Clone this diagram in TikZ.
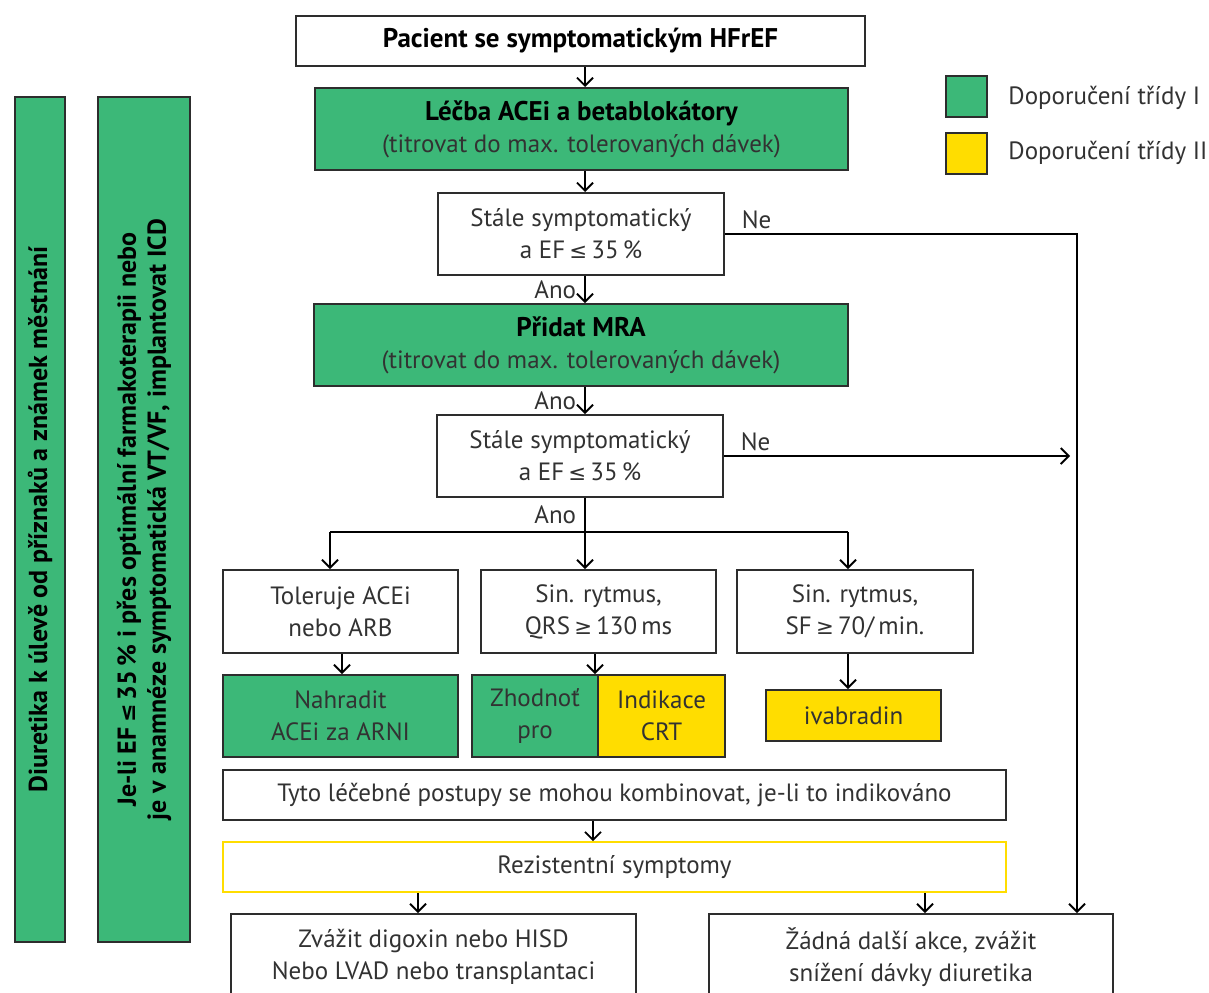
\documentclass[tikz,border=0pt]{standalone}
\usepackage{fontspec}
\setmainfont{PT Sans}
\newfontfamily\znaky{DejaVu Sans}
\usetikzlibrary{arrows.meta}

\definecolor{tridaI}{RGB}{60,184,120}
\definecolor{tridaII}{RGB}{255,221,0}
\definecolor{ramecek}{RGB}{45,45,45}
\definecolor{pismo}{RGB}{50,50,50}

\newcommand{\mensi}{{\znaky\scalebox{0.85}{≤}}}
\newcommand{\vetsi}{{\znaky\scalebox{0.85}{≥}}}

\begin{document}
\begin{tikzpicture}[x=0.5pt, y=-0.5pt,
	every node/.style={font=\fontsize{12.5}{16}\selectfont, text=pismo, align=center, inner sep=2pt},
	box/.style={draw=ramecek, line width=1pt, fill=white},
	zelena/.style={box, fill=tridaI},
	zluta/.style={box, fill=tridaII},
	tucne/.style={font=\fontsize{13.5}{16}\selectfont\bfseries, text=black},
	svisle/.style={font=\fontsize{13}{15}\selectfont\bfseries, text=black, rotate=90},
	sipka/.style={-{Straight Barb[length=4pt,width=8pt]}, line width=0.9pt},
	cara/.style={line width=0.9pt}]
	\clip (0,0) rectangle (1209,992);
	% Main column
	\node[box, tucne, minimum width=284.5pt, minimum height=25pt] (pacient) at (580.5,41) {Pacient se symptomatickým HFrEF};
	\node[zelena, minimum width=266.5pt, minimum height=41pt] (lecba) at (581.5,129) {{\fontsize{13.5}{16}\selectfont\bfseries\color{black}Léčba ACEi a betablokátory}\\(titrovat do max. tolerovaných dávek)};
	\node[box, minimum width=143pt, minimum height=41pt] (dotaz1) at (581,234) {Stále symptomatický\\a EF\,\mensi\,35\,\%};
	\node[zelena, minimum width=267pt, minimum height=41pt] (mra) at (581,345) {{\fontsize{13.5}{16}\selectfont\bfseries\color{black}Přidat MRA}\\(titrovat do max. tolerovaných dávek)};
	\node[box, minimum width=143pt, minimum height=41pt] (dotaz2) at (580,456) {Stále symptomatický\\a EF\,\mensi\,35\,\%};
	% Three branches
	\node[box, minimum width=117.5pt, minimum height=41.5pt] (tol) at (340.5,611.5) {Toleruje ACEi\\nebo ARB};
	\node[box, minimum width=117.5pt, minimum height=41.5pt] (qrs) at (598.5,611.5) {Sin. rytmus,\\QRS\,\vetsi\,130\,ms};
	\node[box, minimum width=118pt, minimum height=41.5pt] (sf) at (855,611.5) {Sin. rytmus,\\SF\,\vetsi\,70/\,min.};
	\node[zelena, minimum width=117.5pt, minimum height=41pt] (arni) at (340.5,716) {Nahradit\\ACEi za ARNI};
	\node[zelena, minimum width=63pt, minimum height=41pt] (zhod) at (535,716) {Zhodnoť\\pro};
	\node[zluta, minimum width=63.5pt, minimum height=41pt] (crt) at (661.5,716) {Indikace\\CRT};
	\node[zluta, minimum width=87.5pt, minimum height=25.5pt] (ivab) at (853.5,715.5) {ivabradin};
	% Bottom part
	\node[box, minimum width=391.5pt, minimum height=25pt] (kombi) at (614.5,795) {Tyto léčebné postupy se mohou kombinovat, je-li to indikováno};
	\node[box, draw=tridaII, line width=0.8pt, minimum width=391.5pt, minimum height=25pt] (rezist) at (614.5,867) {Rezistentní symptomy};
	\node[box, minimum width=202.5pt, minimum height=43pt] (digox) at (433.5,957) {Zvážit digoxin nebo HISD\\Nebo LVAD nebo transplantaci};
	\node[box, minimum width=202pt, minimum height=43pt] (akce) at (911,957) {Žádná další akce, zvážit\\snížení dávky diuretika};
	% Side bars
	\node[zelena, svisle, minimum width=422.5pt, minimum height=25pt] (diur) at (40,519.5) {Diuretika k úlevě od příznaků a známek městnání};
	\node[zelena, svisle, minimum width=422.5pt, minimum height=46pt] (icd) at (144,519.5) {Je-li EF\,\mensi\,35\,\% i přes optimální farmakoterapii nebo\\je v anamnéze symptomatická VT/VF, implantovat ICD};
	% Legend
	\node[zelena, minimum size=20.5pt] (legI) at (966.5,96.5) {};
	\node[zluta, minimum size=20.5pt] (legII) at (966.5,153) {};
	\node[anchor=west, inner sep=0pt] (txtI) at (1008,98) {Doporučení třídy I};
	\node[anchor=west, inner sep=0pt] (txtII) at (1008,153) {Doporučení třídy II};

	% Arrows
	\coordinate (osa) at (585,0);
	\coordinate (rozcesti) at (585,532);
	\coordinate (pravy) at (1077,0);
	\coordinate (konecNe) at (1070,456);
	\draw[sipka] (pacient.south -| osa) -- (lecba.north -| osa);
	\draw[sipka] (lecba.south -| osa) -- (dotaz1.north -| osa);
	\draw[sipka] (dotaz1.south -| osa) -- node[left, inner sep=4pt] {Ano} (mra.north -| osa);
	\draw[sipka] (mra.south -| osa) -- node[left, inner sep=4pt] {Ano} (dotaz2.north -| osa);
	\draw[sipka] (dotaz1.east) node[above right, xshift=6pt] {Ne} -| (pravy |- akce.north);
	\draw[sipka] (dotaz2.east) node[above right, xshift=6pt] {Ne} -- (konecNe);
	\draw[cara] (dotaz2.south -| osa) -- node[left, inner sep=4pt] {Ano} (rozcesti);
	\draw[cara] (330,532) -- (848,532);
	\foreach \cil/\xx in {tol/330, qrs/585, sf/848} {
		\draw[sipka] (\xx,532) -- (\cil.north -| \xx,0);
	}
	\draw[sipka] (tol.south -| 342,0) -- (arni.north -| 342,0);
	\draw[sipka] (qrs.south -| 595,0) -- (zhod.north -| 595,0);
	\draw[sipka] (sf.south -| 848,0) -- (ivab.north -| 848,0);
	\draw[sipka] (kombi.south -| 593,0) -- (rezist.north -| 593,0);
	\draw[sipka] (rezist.south -| 418,0) -- (digox.north -| 418,0);
	\draw[sipka] (rezist.south -| 925,0) -- (akce.north -| 925,0);
\end{tikzpicture}
\end{document}
